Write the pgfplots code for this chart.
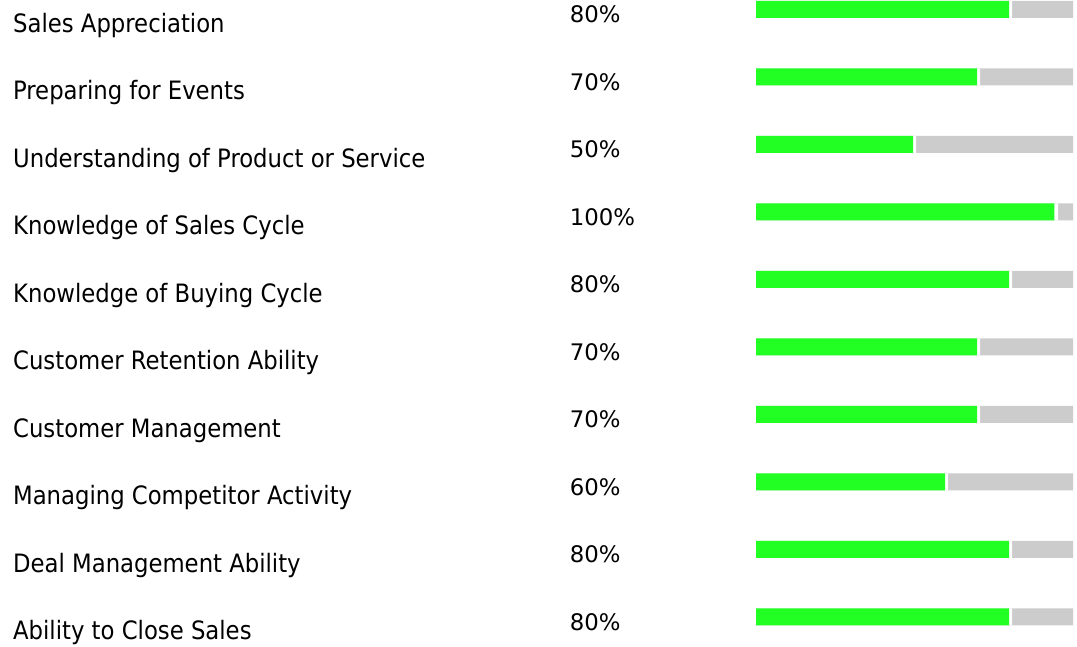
\documentclass[border=0pt]{standalone}
\usepackage{pgfplots}
\pgfplotsset{compat=1.18}
\usepackage{fontspec}
\setmainfont{DejaVu Sans}
\newfontfamily\condfont{DejaVu Sans Condensed}
\definecolor{bargreen}{HTML}{22FF22}
\definecolor{bargray}{HTML}{CCCCCC}
\begin{document}
\begin{tikzpicture}
\begin{axis}[
  width=1077bp, height=647bp, scale only axis,
  xmin=-236.25, xmax=100.3125,
  ymin=-0.1407, ymax=9.4444, y dir=reverse,
  hide axis, clip=false,
]
% gray background track
\addplot[xbar, bar width=17bp, bar shift=0pt, fill=bargray, draw=none] coordinates {
 (99.06,0) (99.06,1) (99.06,2) (99.06,3) (99.06,4) (99.06,5) (99.06,6) (99.06,7) (99.06,8) (99.06,9)};
% white gap
\addplot[xbar, bar width=17bp, bar shift=0pt, fill=white, draw=none] coordinates {
 (80,0) (70,1) (50,2) (94.4,3) (80,4) (70,5) (70,6) (60,7) (80,8) (80,9)};
% green value
\addplot[xbar, bar width=17bp, bar shift=0pt, fill=bargreen, draw=none] coordinates {
 (79.06,0) (69.06,1) (49.06,2) (93.2,3) (79.06,4) (69.06,5) (69.06,6) (59.06,7) (79.06,8) (79.06,9)};
% category labels
\addplot[draw=none, mark=none, nodes near coords, point meta=explicit symbolic,
  every node near coord/.append style={anchor=base west, inner sep=0pt, text=black,
  font=\condfont\fontsize{25.3bp}{30bp}\selectfont}] coordinates {
 (-232.2,0.34) [Sales Appreciation]
 (-232.2,1.34) [Preparing for Events]
 (-232.2,2.34) [Understanding of Product or Service]
 (-232.2,3.34) [Knowledge of Sales Cycle]
 (-232.2,4.34) [Knowledge of Buying Cycle]
 (-232.2,5.34) [Customer Retention Ability]
 (-232.2,6.34) [Customer Management]
 (-232.2,7.34) [Managing Competitor Activity]
 (-232.2,8.34) [Deal Management Ability]
 (-232.2,9.34) [Ability to Close Sales]
};
% percentages
\addplot[draw=none, mark=none, nodes near coords, point meta=explicit symbolic,
  every node near coord/.append style={anchor=base west, inner sep=0pt, text=black,
  font=\fontsize{22.8bp}{27bp}\selectfont}] coordinates {
 (-58.2,0.2) [80\%]
 (-58.2,1.2) [70\%]
 (-58.2,2.2) [50\%]
 (-58.2,3.2) [100\%]
 (-58.2,4.2) [80\%]
 (-58.2,5.2) [70\%]
 (-58.2,6.2) [70\%]
 (-58.2,7.2) [60\%]
 (-58.2,8.2) [80\%]
 (-58.2,9.2) [80\%]
};
\end{axis}
\pgfresetboundingbox
\path (current axis.south west) rectangle (current axis.north east);
\end{tikzpicture}
\end{document}
